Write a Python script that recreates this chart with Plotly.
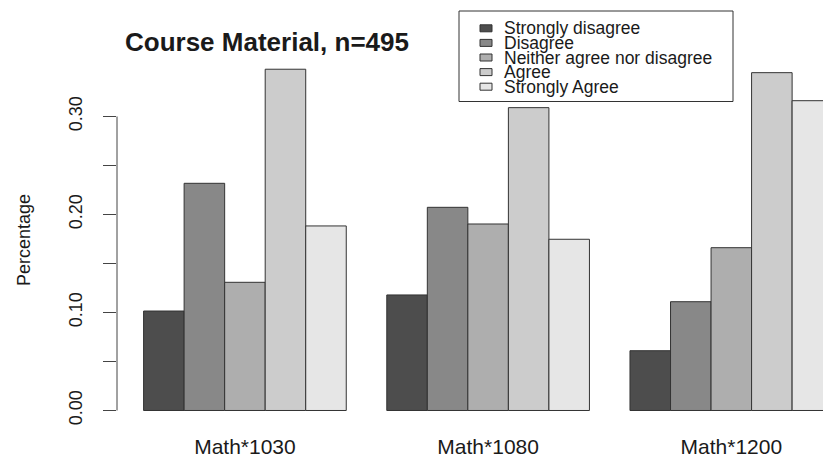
import plotly.graph_objects as go

# ---- data ----
courses = ["Math*1030", "Math*1080", "Math*1200"]
responses = ["Strongly disagree", "Disagree", "Neither agree nor disagree", "Agree", "Strongly Agree"]
strongly_disagree = [0.1015, 0.1179, 0.0610]
disagree = [0.2318, 0.2073, 0.1110]
neither = [0.1308, 0.1903, 0.1661]
agree = [0.3482, 0.3090, 0.3447]
strongly_agree = [0.1883, 0.1747, 0.3161]
series = [strongly_disagree, disagree, neither, agree, strongly_agree]
colors = ["#4D4D4D", "#888888", "#AEAEAE", "#CCCCCC", "#E6E6E6"]
y_tick_values = [0, 0.05, 0.10, 0.15, 0.20, 0.25, 0.30]
y_tick_labels = ["0.00", "", "0.10", "", "0.20", "", "0.30"]
title_text = "Course Material, n=495"

W, H = 823, 459
ML, MR, MT, MB = 117, 0, 56, 35
PW, PH = W - ML - MR, H - MT - MB
FONT = "Liberation Sans, Arial, Helvetica, sans-serif"
TXT = "#1a1a1a"


def px_x(px):
    return (px - ML) / PW


def px_y(py):
    return (H - MB - py) / PH


fig = go.Figure()
for name, vals, col in zip(responses, series, colors):
    fig.add_trace(go.Bar(
        x=courses, y=vals, name=name,
        marker=dict(color=col, line=dict(color="#333333", width=1)),
        showlegend=False,
    ))

shapes = []
annotations = []
# y axis line (R style: only spans the labelled range)
shapes.append(dict(type="line", xref="paper", yref="y", x0=0, x1=0,
                   y0=y_tick_values[0], y1=y_tick_values[-1],
                   line=dict(color="#444444", width=1)))

# manual R-style legend
shapes.append(dict(type="rect", xref="paper", yref="paper",
                   x0=px_x(459), x1=px_x(733), y0=px_y(101.5), y1=px_y(11),
                   line=dict(color="#333333", width=1), fillcolor="white"))
row0, step = 28.3, 14.6
for i, (name, col) in enumerate(zip(responses, colors)):
    cy = row0 + i * step
    shapes.append(dict(type="rect", xref="paper", yref="paper",
                       x0=px_x(480), x1=px_x(492), y0=px_y(cy + 3.5), y1=px_y(cy - 3.5),
                       line=dict(color="#333333", width=1), fillcolor=col))
    annotations.append(dict(xref="paper", yref="paper", x=px_x(502), y=px_y(cy),
                            text=name, showarrow=False, xanchor="left", yanchor="middle",
                            font=dict(family=FONT, size=17.5, color=TXT)))

# title as annotation for exact placement
annotations.append(dict(xref="paper", yref="paper", x=px_x(267), y=px_y(42),
                        text="<b>" + title_text + "</b>", showarrow=False,
                        xanchor="center", yanchor="middle",
                        font=dict(family=FONT, size=26, color=TXT)))

fig.update_layout(
    width=W, height=H, autosize=False,
    margin=dict(l=ML, r=MR, t=MT, b=MB, pad=0),
    paper_bgcolor="white", plot_bgcolor="white",
    barmode="group", bargap=1 / 6, bargroupgap=0,
    xaxis=dict(range=[-0.526, 2.377], showgrid=False, zeroline=False, showline=False,
               ticks="", tickfont=dict(family=FONT, size=21, color=TXT),
               ticklabelstandoff=8, automargin=False, fixedrange=True),
    yaxis=dict(range=[-0.01378, 0.3617], showgrid=False, zeroline=False, showline=False,
               tickmode="array", tickvals=y_tick_values, ticktext=y_tick_labels,
               ticks="outside", ticklen=13, tickcolor="#444444", tickwidth=1,
               tickangle=-90, tickfont=dict(family=FONT, size=18, color=TXT),
               ticklabelstandoff=14, automargin=False,
               title=dict(text="Percentage", standoff=30,
                          font=dict(family=FONT, size=18, color=TXT)),
               fixedrange=True),
    shapes=shapes,
    annotations=annotations,
    showlegend=False,
)

fig.write_html("out.html", config={"displayModeBar": False},
               post_script="document.body.style.margin='0';document.body.style.overflow='hidden';")
